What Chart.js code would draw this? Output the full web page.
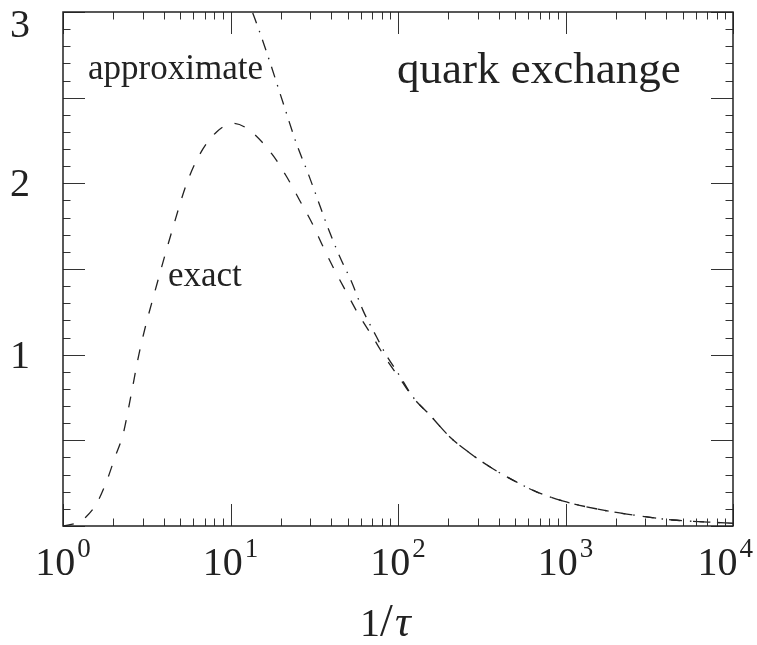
<!DOCTYPE html>
<html>
<head>
<meta charset="utf-8">
<script src="https://cdn.jsdelivr.net/npm/chart.js@4/dist/chart.umd.min.js"></script>
<style>
  html, body { margin: 0; padding: 0; background: #fff; }
  #wrap { width: 757px; height: 645px; }
</style>
</head>
<body>
<div id="wrap"><canvas id="c" width="757" height="645"></canvas></div>
<script>
// Exact result versus 1/tau
const exactX = [1, 1.22, 1.37, 1.585, 1.82, 2.04, 2.29, 2.51, 2.88, 3.68, 4.53, 5.48, 6.56, 8.26,
  10.35, 13.0, 17.7, 21.6, 25.9, 30.6, 35.7, 42.0, 49.5, 57.7, 70.0, 83.6, 102.6, 123, 155, 204,
  269, 355, 485, 676, 971, 1778, 2818, 4365, 7079, 10000];
const exactY = [0, 0.02, 0.053, 0.13, 0.26, 0.40, 0.54, 0.73, 1.03, 1.43, 1.74, 2.0, 2.17, 2.30,
  2.35, 2.31, 2.17, 2.04, 1.90, 1.77, 1.63, 1.49, 1.36, 1.24, 1.11, 0.985, 0.86, 0.75, 0.647, 0.52,
  0.425, 0.344, 0.268, 0.198, 0.145, 0.088, 0.058, 0.035, 0.023, 0.016];

// Approximate result versus 1/tau
const approxX = [10, 13.5, 16.5, 20.6, 24.8, 29.0, 33.3, 38.2, 45.0, 53.1, 61.7, 74.8, 83.6, 102.6,
  123, 155, 204, 269, 355, 485, 676, 971, 1778, 2818, 4365, 7079, 10000];
const approxY = [3.30, 3.0, 2.76, 2.47, 2.23, 2.06, 1.90, 1.74, 1.57, 1.42, 1.26, 1.10, 1.01, 0.875,
  0.752, 0.648, 0.52, 0.425, 0.344, 0.268, 0.198, 0.145, 0.088, 0.058, 0.035, 0.023, 0.016];

// Axis ticks
const xMajorTicks = [1, 10, 100, 1000, 10000];
const xTickExponents = ['0', '1', '2', '3', '4'];
const xMinorFactors = [2, 3, 4, 5, 6, 7, 8, 9];
const yMajorTicks = [0, 0.5, 1, 1.5, 2, 2.5, 3];
const yLabelTicks = [1, 2, 3];
const yMinorStep = 0.1;

const INK = '#222';
const SERIF = '"Liberation Serif", "Times New Roman", serif';

function toPoints(xs, ys) {
  return xs.map((x, i) => ({ x: x, y: ys[i] }));
}

// Boxed frame with inward ticks on all four sides, plus tick labels and annotations
const framePlugin = {
  id: 'frame',
  afterDatasetsDraw(chart) {
    const ctx = chart.ctx;
    const a = chart.chartArea;
    const xs = chart.scales.x, ys = chart.scales.y;
    ctx.save();

    // ticks
    ctx.strokeStyle = '#333';
    ctx.lineWidth = 1;
    const majLen = 22, minLen = 7.5;
    ctx.beginPath();
    xMajorTicks.forEach((v, i) => {
      const px = Math.round(xs.getPixelForValue(v)) + 0.5;
      ctx.moveTo(px, a.bottom); ctx.lineTo(px, a.bottom - majLen);
      ctx.moveTo(px, a.top); ctx.lineTo(px, a.top + majLen);
      if (i < xMajorTicks.length - 1) {
        xMinorFactors.forEach(f => {
          const p = Math.round(xs.getPixelForValue(v * f)) + 0.5;
          ctx.moveTo(p, a.bottom); ctx.lineTo(p, a.bottom - minLen);
          ctx.moveTo(p, a.top); ctx.lineTo(p, a.top + minLen);
        });
      }
    });
    const yMax = yMajorTicks[yMajorTicks.length - 1];
    for (let k = 0; k <= Math.round(yMax / yMinorStep); k++) {
      const v = k * yMinorStep;
      const isMajor = yMajorTicks.some(t => Math.abs(t - v) < 1e-9);
      const len = isMajor ? majLen : minLen;
      const py = Math.round(ys.getPixelForValue(v)) + 0.5;
      ctx.moveTo(a.left, py); ctx.lineTo(a.left + len, py);
      ctx.moveTo(a.right, py); ctx.lineTo(a.right - len, py);
    }
    ctx.stroke();

    // frame
    ctx.strokeStyle = INK;
    ctx.lineWidth = 1.5;
    ctx.strokeRect(a.left, a.top, a.right - a.left, a.bottom - a.top);

    ctx.fillStyle = INK;
    // x tick labels: 10^n
    const baseFont = '40px ' + SERIF, supFont = '27px ' + SERIF;
    xMajorTicks.forEach((v, i) => {
      const px = xs.getPixelForValue(v);
      ctx.font = baseFont;
      const wb = ctx.measureText('10').width;
      ctx.font = supFont;
      const ws = ctx.measureText(xTickExponents[i]).width;
      const total = wb + ws + 2;
      let x0 = px - total / 2;
      if (x0 + total > chart.width - 4) x0 = chart.width - 4 - total;
      ctx.textAlign = 'left';
      ctx.textBaseline = 'alphabetic';
      ctx.font = baseFont;
      ctx.fillText('10', x0, a.bottom + 49);
      ctx.font = supFont;
      ctx.fillText(xTickExponents[i], x0 + wb + 2, a.bottom + 31);
    });

    // y tick labels
    ctx.font = baseFont;
    ctx.textAlign = 'right';
    yLabelTicks.forEach(v => {
      const py = ys.getPixelForValue(v);
      ctx.fillText(String(v), 30, Math.max(py + 13, a.top + 25));
    });

    // axis title 1/tau
    const cx = (a.left + a.right) / 2;
    ctx.textAlign = 'left';
    ctx.font = '40px ' + SERIF;
    ctx.fillText('1', cx - 38, 636);
    ctx.font = '46px ' + SERIF;
    ctx.fillText('/', cx - 18, 636);
    ctx.font = 'italic 44px ' + SERIF;
    ctx.fillText('\u03C4', cx - 3, 636);

    // annotations
    ctx.font = '45px ' + SERIF;
    ctx.fillText('quark exchange', 397, 83);
    ctx.font = '35px ' + SERIF;
    ctx.fillText('approximate', 88, 79);
    ctx.fillText('exact', 168, 286);

    ctx.restore();
  }
};

new Chart(document.getElementById('c'), {
  type: 'line',
  data: {
    datasets: [
      {
        label: 'exact',
        data: toPoints(exactX, exactY),
        borderColor: INK,
        borderWidth: 1.3,
        borderDash: [11, 13],
        pointRadius: 0,
        cubicInterpolationMode: 'monotone',
        fill: false
      },
      {
        label: 'approximate',
        data: toPoints(approxX, approxY),
        borderColor: INK,
        borderWidth: 1.3,
        borderDash: [11, 8, 1.5, 8],
        pointRadius: 0,
        cubicInterpolationMode: 'monotone',
        fill: false
      }
    ]
  },
  options: {
    responsive: false,
    devicePixelRatio: 1,
    animation: false,
    layout: { padding: { left: 63, top: 12, right: 24, bottom: 119 } },
    plugins: { legend: { display: false }, tooltip: { enabled: false }, title: { display: false } },
    scales: {
      x: { type: 'logarithmic', min: 1, max: 10000, display: false },
      y: { type: 'linear', min: 0, max: 3, display: false }
    }
  },
  plugins: [framePlugin]
});
</script>
</body>
</html>
